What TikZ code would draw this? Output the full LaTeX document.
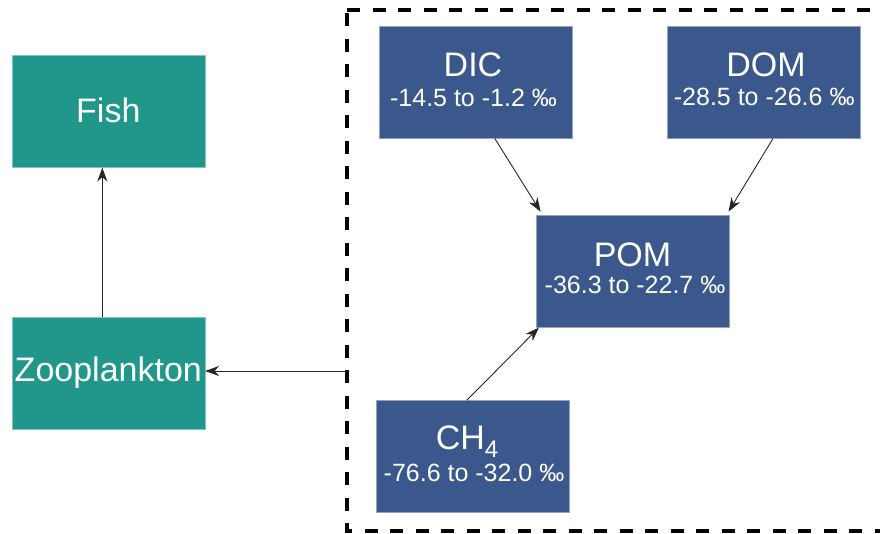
\documentclass[tikz,border=0pt]{standalone}
\usepackage{fontspec}
\setmainfont{Liberation Sans}
\usetikzlibrary{arrows.meta}
\definecolor{tealc}{RGB}{33,150,139}
\definecolor{bluec}{RGB}{58,88,140}
\begin{document}
\begin{tikzpicture}[x=1pt,y=-1pt,
  box/.style={minimum width=193pt, minimum height=112pt, inner sep=0pt, line width=0.6pt},
  tealbox/.style={box, fill=tealc, draw=tealc!55!white},
  bluebox/.style={box, fill=bluec, draw=bluec!55!white},
  ttl/.style={text=white, inner sep=0pt, anchor=base, font=\fontsize{34}{40}\selectfont},
  sub/.style={text=white, inner sep=0pt, anchor=base, font=\fontsize{25}{30}\selectfont},
  arr/.style={draw=black!85, line width=0.9pt, -{Stealth[length=14pt, width=10pt, inset=4.5pt]}},
  grp/.style={draw=black, line width=4.5pt, dash pattern=on 13pt off 12.5pt}
]
\useasboundingbox (0,0) rectangle (880,533);
\clip (0,0) rectangle (880,533);

% dashed group frame (right edge beyond the picture)
\draw[grp] (347,10) -- (905,10) -- (905,531) -- (347,531) -- cycle;
\coordinate (gw) at (347,371);

% boxes
\node[tealbox] (fish) at (108.3,111.3) {};
\node[tealbox] (zoo) at (108.3,373.3) {};
\node[bluebox] (dic) at (475.8,82.2) {};
\node[bluebox] (dom) at (764,82.2) {};
\node[bluebox] (pom) at (632.7,271.3) {};
\node[bluebox] (ch4) at (472.7,456.7) {};

% texts
\node[ttl] (fishT) at (108.3,122.7) {Fish};
\node[ttl] (zooT) at (108.3,381.7) {Zooplankton};
\node[ttl] (dicT) at (473,76) {DIC};
\node[sub] (dicS) at (473.5,106) {-14.5 to -1.2 ‰};
\node[ttl] (domT) at (766,76) {DOM};
\node[sub] (domS) at (764.2,105.3) {-28.5 to -26.6 ‰};
\node[ttl] (pomT) at (632.5,266) {POM};
\node[sub] (pomS) at (635,293.3) {-36.3 to -22.7 ‰};
\node[ttl] (ch4T) at (467,449) {CH\raisebox{-8pt}{\fontsize{24}{24}\selectfont 4}};
\node[sub] (ch4S) at (474,481.7) {-76.6 to -32.0 ‰};

% connectors
\draw[arr] ([xshift=-6pt]zoo.north) -- ([xshift=-6pt]fish.south);
\draw[arr] (gw) -- (zoo.east |- gw);
\draw[arr] ([xshift=19pt]dic.south) -- ([shift={(4.7pt,3.3pt)}]pom.north west);
\draw[arr] ([xshift=9pt]dom.south) -- ([shift={(-1pt,3.3pt)}]pom.north east);
\draw[arr] ([xshift=-6pt]ch4.north) -- ([shift={(3pt,0pt)}]pom.south west);
\end{tikzpicture}
\end{document}
